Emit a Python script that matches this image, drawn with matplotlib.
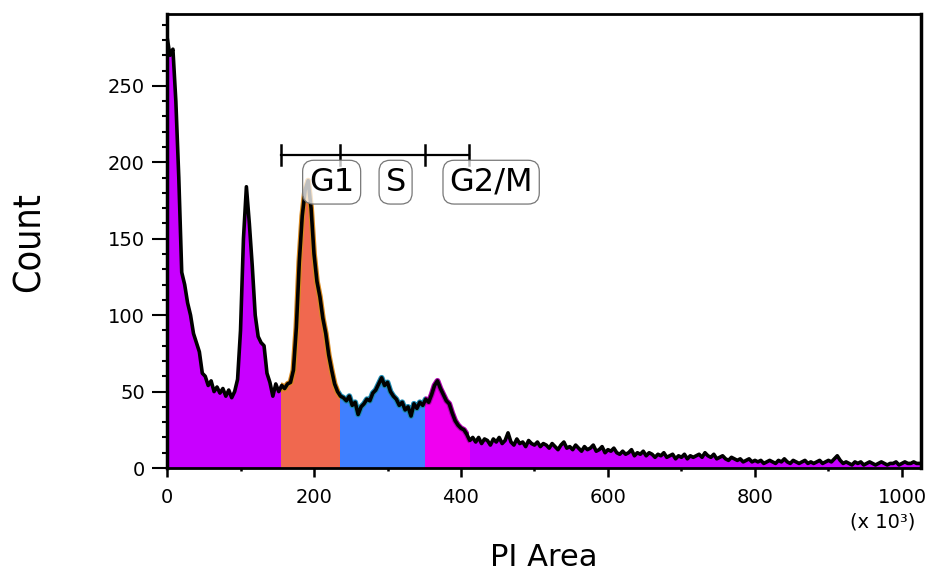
import numpy as np
import matplotlib
matplotlib.use("Agg")
import matplotlib.pyplot as plt
from matplotlib.patches import Rectangle

# PI area histogram, bin width 4 (x 10^3)
bin_width = 4
counts = [
    282, 270, 274, 240, 190, 128, 120, 108, 100, 88,
    82, 76, 62, 60, 54, 57, 50, 53, 49, 52,
    47, 51, 46, 50, 58, 90, 150, 184, 160, 132,
    100, 86, 82, 80, 62, 56, 47, 55, 50, 54,
    52, 55, 56, 64, 92, 135, 165, 182, 188, 170,
    140, 122, 112, 98, 88, 74, 64, 55, 50, 47,
    46, 44, 47, 41, 43, 35, 40, 42, 45, 44,
    49, 51, 55, 59, 54, 56, 50, 47, 45, 41,
    43, 38, 40, 34, 42, 39, 43, 41, 45, 43,
    48, 54, 57, 52, 48, 44, 42, 36, 31, 28,
    26, 25, 22, 18, 20,
    17, 20, 16, 19, 18, 15, 19, 17, 20, 16, 18, 23, 17, 15, 19, 16, 17, 14, 18, 16, 15, 17, 14, 16, 15,
    13, 16, 14, 12, 15, 17, 13, 14, 12, 15, 13, 11, 14, 12, 13, 15, 11, 12, 14, 10, 12, 11, 13, 10, 9,
    11, 9, 10, 12, 8, 10, 9, 11, 8, 10, 9, 7, 9, 8, 10, 7, 8, 9, 6, 8, 7, 9, 6, 8, 7,
    8, 9, 7, 10, 8, 7, 9, 6, 7, 8, 6, 5, 7, 6, 5, 6, 4, 5, 6, 4, 5, 4, 5, 3, 4,
    5, 4, 3, 5, 4, 6, 4, 3, 5, 4, 3, 4, 5, 3, 4, 3, 4, 5, 3, 4, 5, 4, 6, 8, 5,
    3, 4, 3, 2, 4, 3, 4, 2, 3, 4, 3, 2, 3, 4, 3, 2, 3, 3, 4, 2, 3, 4, 3, 3, 4, 3, 3,
]
x = np.arange(len(counts)) * bin_width
counts = np.array(counts)

gate_names = ["G1", "S", "G2/M"]
gate_edges = [155, 235, 351, 411]
gate_colors = ["#F0684F", "#4080FF", "#F000F0"]
gate_edge_colors = ["#D98A20", "#1E8CB4", "#B000B0"]
base_color = "#C800FF"
label_x = [224, 311, 441]

fig = plt.figure(figsize=(9.41, 5.72), dpi=100)
ax = fig.add_axes([0.1775, 0.1818, 0.8013, 0.7937])

ax.fill_between(x, counts, color=base_color, lw=0)
for i, col in enumerate(gate_colors):
    lo, hi = gate_edges[i], gate_edges[i + 1]
    clip = Rectangle((lo, 0), hi - lo, 400, transform=ax.transData)
    poly = ax.fill_between(x, counts, color=col, lw=0)
    poly.set_clip_path(clip)
    # thin coloured rim under the outline
    rim, = ax.plot(x, counts, color=gate_edge_colors[i], lw=4.2)
    rim.set_clip_path(clip)
ax.plot(x, counts, color="black", lw=2.6, solid_joinstyle="round")

# gate bar
bar_y = 205
ax.plot([gate_edges[0], gate_edges[-1]], [bar_y, bar_y], color="black", lw=1.6)
for e in gate_edges:
    ax.plot([e, e], [bar_y - 6.5, bar_y + 6.5], color="black", lw=1.8)
for name, lx in zip(gate_names, label_x):
    ax.text(lx, 187, name, fontsize=23, ha="center", va="center",
            bbox=dict(boxstyle="round,pad=0.2,rounding_size=0.35",
                      fc=(1, 1, 1, 0.75), ec="#777777", lw=0.9))

ax.set_xlim(0, 1026)
ax.set_ylim(0, 297)
ax.set_xticks(range(0, 1001, 200))
ax.set_xticks(range(100, 1001, 200), minor=True)
ax.set_yticks(range(0, 251, 50))
ax.set_yticks(range(0, 291, 10), minor=True)

for s in ax.spines.values():
    s.set_linewidth(2)
ax.spines["left"].set_linewidth(2.5)
ax.spines["right"].set_linewidth(2.5)
ax.tick_params(axis="y", which="major", length=11, width=1.5, labelsize=14, pad=5)
ax.tick_params(axis="y", which="minor", length=3.6, width=1.5)
ax.tick_params(axis="x", which="major", length=6.5, width=1.8, labelsize=14, pad=8)
ax.tick_params(axis="x", which="minor", length=2.5, width=1.8)

fig.text(0.938, 0.088, "(x 10³)", fontsize=14, ha="center", va="center")
fig.text(0.578, 0.025, "PI Area", fontsize=22, ha="center", va="center")
fig.text(0.032, 0.577, "Count", fontsize=27, rotation=90, ha="center", va="center",
         family="DejaVu Sans", fontstretch="condensed")

fig.savefig("out.png", dpi=100)
